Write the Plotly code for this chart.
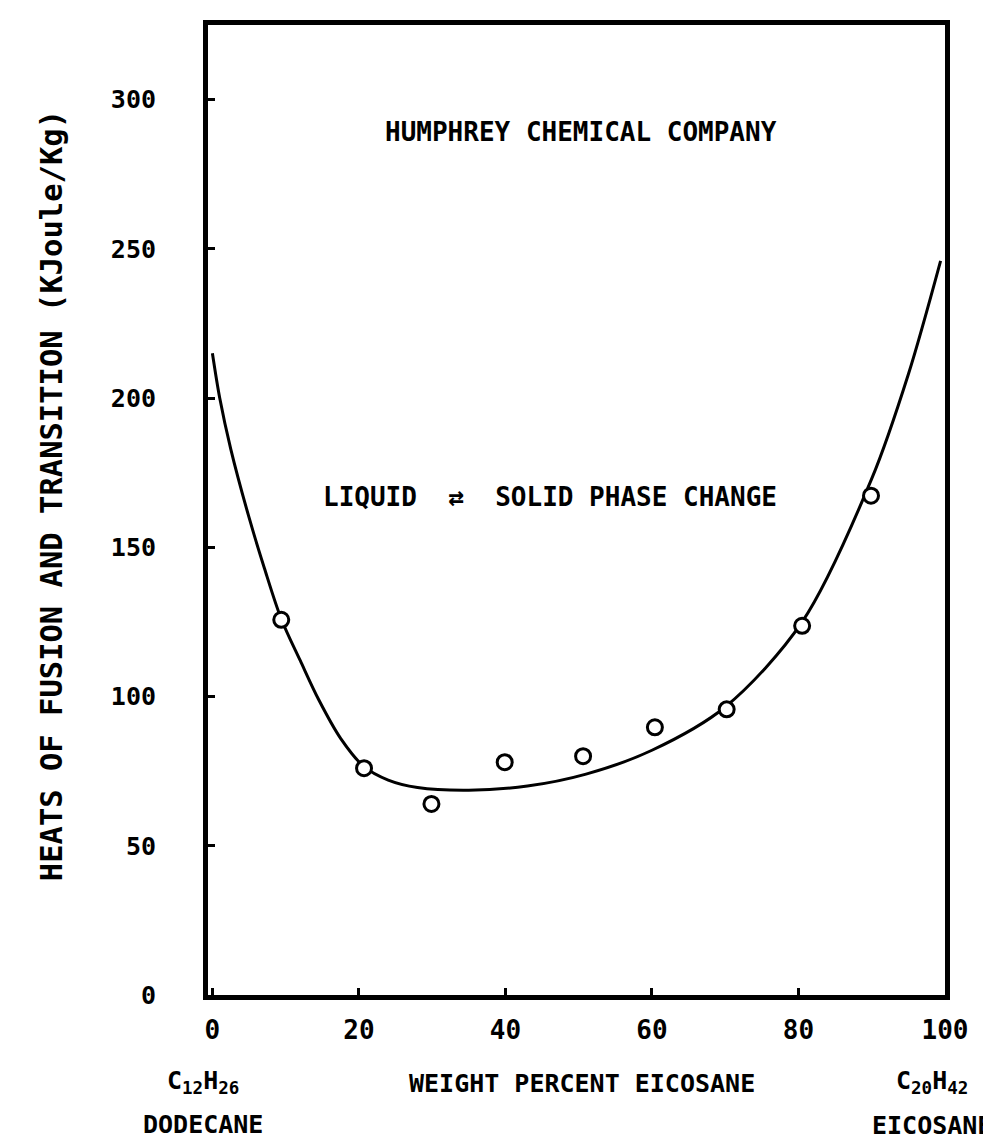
import plotly.graph_objects as go

# measured points (weight percent eicosane vs heat of fusion, kJ/kg)
pct_eicosane = [9.4, 20.7, 29.9, 39.9, 50.6, 60.4, 70.2, 80.5, 89.9]
heat_measured = [125.7, 76, 64, 78, 80, 89.7, 95.7, 123.7, 167.3]

# hand-drawn fitted curve
curve_x = [0, 1, 2.5, 5, 7.1, 9.4, 12, 14.5, 17.5, 20.7, 24, 28, 35, 43, 51,
           60, 70, 80.5, 90, 95, 99.4]
curve_y = [215, 200, 183, 160, 143, 126, 112, 99, 86, 76.5, 72, 69.5, 68.6,
           70, 74, 82, 96.5, 125, 173, 208, 246]

x_ticks = [0, 20, 40, 60, 80, 100]
y_ticks = [0, 50, 100, 150, 200, 250, 300]

FONT = "DejaVu Sans Mono"
fnt = dict(family=FONT, size=26, color="black", weight="bold")
fnt_small = dict(family=FONT, size=25, color="black", weight="bold")

fig = go.Figure()
fig.add_trace(
    go.Scatter(
        x=curve_x,
        y=curve_y,
        mode="lines",
        line=dict(color="black", width=3, shape="spline", smoothing=0.9),
        hoverinfo="skip",
    )
)
fig.add_trace(
    go.Scatter(
        x=pct_eicosane,
        y=heat_measured,
        mode="markers",
        marker=dict(
            symbol="circle",
            size=15,
            color="white",
            line=dict(color="black", width=3),
        ),
    )
)

texts = [
    # (text, x, y, xref, yref, font)
    ("HUMPHREY CHEMICAL COMPANY", 50.3, 289.2, "x", "y", fnt),
    ("LIQUID  ⇄  SOLID PHASE CHANGE", 46.1, 166.8, "x", "y", fnt),
    ("C<sub>12</sub>H<sub>26</sub>", -0.007, -0.09, "paper", "paper", fnt_small),
    ("DODECANE", -0.007, -0.133, "paper", "paper", fnt_small),
    ("WEIGHT PERCENT EICOSANE", 0.5075, -0.0916, "paper", "paper", fnt_small),
    ("C<sub>20</sub>H<sub>42</sub>", 0.982, -0.09, "paper", "paper", fnt_small),
    ("EICOSANE", 0.982, -0.135, "paper", "paper", fnt_small),
]
for t, x, y, xr, yr, f in texts:
    fig.add_annotation(
        text=t, x=x, y=y, xref=xr, yref=yr,
        showarrow=False, xanchor="center", yanchor="middle", font=f,
    )

fig.add_annotation(
    text="HEATS OF FUSION AND TRANSITION (KJoule/Kg)",
    x=-0.212, y=0.515, xref="paper", yref="paper",
    showarrow=False, textangle=-90, xanchor="center", yanchor="middle",
    font=dict(family=FONT, size=30.5, color="black", weight="bold"),
)

fig.update_xaxes(
    range=[-0.6, 100],
    tickvals=x_ticks,
    ticks="inside",
    ticklen=7,
    tickwidth=3,
    tickcolor="black",
    showline=True,
    linewidth=5,
    linecolor="black",
    mirror=True,
    showgrid=False,
    zeroline=False,
    ticklabelstandoff=8,
    tickfont=fnt,
)
fig.update_yaxes(
    range=[0, 325],
    tickvals=y_ticks,
    ticks="inside",
    ticklen=7,
    tickwidth=3,
    tickcolor="black",
    showline=True,
    linewidth=5,
    linecolor="black",
    mirror=True,
    showgrid=False,
    zeroline=False,
    ticklabelstandoff=42,
    tickfont=fnt_small,
)
fig.update_layout(
    width=991,
    height=1138,
    margin=dict(l=200, r=54, t=15, b=151),
    paper_bgcolor="white",
    plot_bgcolor="white",
    showlegend=False,
)

fig.write_html("out.html")
